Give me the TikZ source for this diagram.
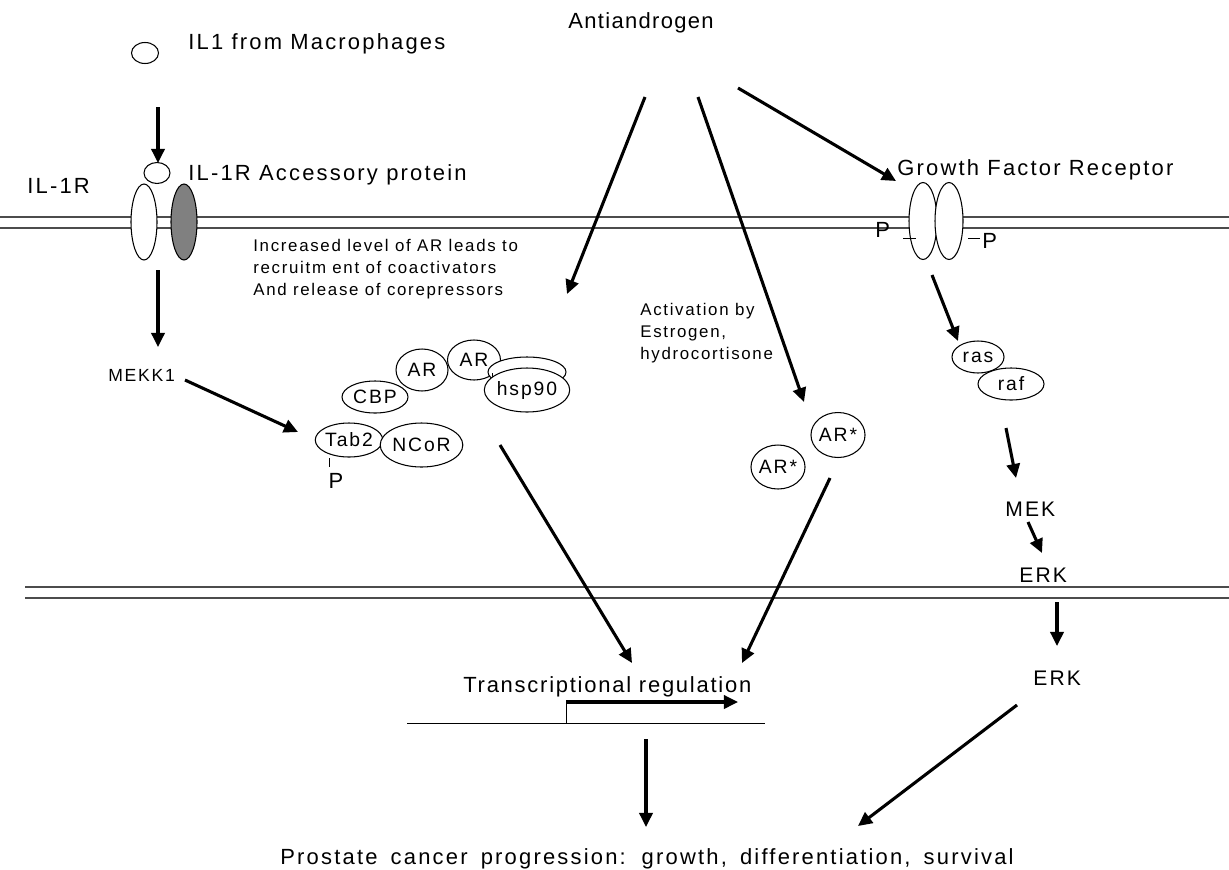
\documentclass[tikz,border=0pt]{standalone}
\usepackage{fontspec}
\setmainfont{Liberation Sans}[LetterSpace=10]
\usetikzlibrary{shapes.geometric, arrows.meta, positioning}

\begin{document}
\begin{tikzpicture}[x=0.02cm, y=-0.02cm,
        prot/.style={ellipse, draw, fill=white, semithick, inner sep=0pt, font=\fontsize{11}{13}\selectfont},
        dims/.style 2 args={minimum width=#1*0.02cm, minimum height=#2*0.02cm},
        txt/.style={inner sep=0pt, font=\fontsize{12.5}{15}\selectfont},
        note/.style={inner sep=0pt, align=left, font=\fontsize{9.6}{12.5}\selectfont},
        arrow/.style={-{Triangle[length=8pt, width=7.5pt]}, line width=1.75pt},
        membrane/.style={gray!60!black, line width=0.8pt}%
    ]
        \useasboundingbox (0,0) rectangle (1229,869);

        % membranes
        \draw[membrane] (0,217) -- (1229,217);
        \draw[membrane] (0,228) -- (1229,228);
        \draw[membrane] (25,587) -- (1229,587);
        \draw[membrane] (25,598) -- (1229,598);

        % labels
        \node[txt, anchor=base] (anti) at (641,28) {\addfontfeatures{LetterSpace=6}Antiandrogen};
        \node[txt, anchor=base west] (il1txt) at (188,49) {IL1 from Macrophages};
        \node[txt, anchor=base west] (acctxt) at (188,180) {IL-1R Accessory protein};
        \node[txt, anchor=base west] (il1rtxt) at (27,193) {IL-1R};
        \node[txt, anchor=base west] (gfrtxt) at (897,175) {Growth Factor Receptor};
        \node[note, anchor=north west] (arnote) at (253,239) {Increased level of AR leads to\\recruitm ent of coactivators\\And release of corepressors};
        \node[note, anchor=north west] (estnote) at (640,303) {Activation by\\Estrogen,\\hydrocortisone};
        \node[note, anchor=base west, font=\fontsize{10}{12}\selectfont] (mekk1) at (108,381) {MEKK1};
        \node[txt, anchor=base west, font=\fontsize{12}{14}\selectfont] (mek) at (1005,516) {MEK};
        \node[txt, anchor=base west, font=\fontsize{12}{14}\selectfont] (erk1) at (1019,582) {ERK};
        \node[txt, anchor=base west, font=\fontsize{12}{14}\selectfont] (erk2) at (1033,685) {ERK};
        \node[txt, anchor=base west] (trtxt) at (463,692) {\addfontfeatures{LetterSpace=8}Transcriptional regulation};
        \node[txt, anchor=base] (prog) at (647,864) {\spaceskip=7.5pt\relax Prostate cancer progression: growth, differentiation, survival};

        % receptors
        \node[prot, dims={27}{21}] (il1) at (145,53) {};
        \node[prot, dims={26}{21}] (lig) at (157,173) {};
        \node[prot, dims={26}{76}] (il1r) at (144,222) {};
        \node[prot, dims={26}{76}, fill=gray] (accp) at (184,222) {};
        \node[prot, dims={28}{77}] (gfr1) at (923,221) {};
        \node[prot, dims={28}{77}] (gfr2) at (949,221) {};
        \draw (903,238) -- (916,238);
        \draw (968,238) -- (980,238);
        \node[txt, anchor=base west] (pl) at (875,237) {P};
        \node[txt, anchor=base west] (pr) at (982,248) {P};

        % ras / raf
        \node[prot, dims={66}{32}] (raf) at (1011,384) {raf};
        \node[prot, dims={52}{32}] (ras) at (978,357) {ras};

        % AR complex
        \node[prot, dims={53}{40}] (ar2) at (474,360) {AR};
        \node[prot, dims={78}{30}] (hspb) at (527,372) {};
        \draw (492,373) -- (492,378);
        \node[prot, dims={80}{44}] (hsp) at (527,390) {hsp90};
        \node[prot, dims={52}{42}] (ar1) at (422,370) {AR};
        \node[prot, dims={66}{32}] (cbp) at (375,397) {CBP};
        \node[prot, dims={66}{34}] (tab2) at (349,440) {Tab2};
        \node[prot, dims={79}{44}] (ncor) at (421.5,445) {NCoR};
        \node[txt, anchor=base] (tabp) at (336,488) {P};
        \draw (329,458) -- (329,467);

        % activated AR
        \node[prot, dims={45}{45}] (ars1) at (838,435) {AR*};
        \node[prot, dims={52}{44}] (ars2) at (778,467) {AR*};

        % gene
        \coordinate (genel) at (407,723);
        \coordinate (gener) at (765,723);
        \coordinate (tss) at (566,723);
        \coordinate (tsstop) at (566,702);
        \coordinate (tssend) at (738,702);
        \draw (genel) -- (gener);
        \draw (tss) -- (tsstop);
        \draw[arrow] (tsstop) -- (tssend);

        % arrow ends
        \coordinate (s1) at (158,107);   \coordinate (e1) at (158,163);
        \coordinate (s2) at (158,270);   \coordinate (e2) at (158,347);
        \coordinate (s3) at (185,380);   \coordinate (e3) at (298,432);
        \coordinate (s4) at (645,97);    \coordinate (e4) at (567,294);
        \coordinate (s5) at (698,97);    \coordinate (e5) at (804,402);
        \coordinate (s6) at (738,88);    \coordinate (e6) at (896,181);
        \coordinate (s7) at (932,275);   \coordinate (e7) at (958,341);
        \coordinate (s8) at (1006,428);  \coordinate (e8) at (1016,478);
        \coordinate (s9) at (1028,522);  \coordinate (e9) at (1042,553);
        \coordinate (s10) at (1057,602); \coordinate (e10) at (1057,646);
        \coordinate (s11) at (500,445);  \coordinate (e11) at (632,663);
        \coordinate (s12) at (830,478);  \coordinate (e12) at (742,663);
        \coordinate (s13) at (646,739);  \coordinate (e13) at (646,827);
        \coordinate (s14) at (1017,705); \coordinate (e14) at (858,826);

        \foreach \i in {1,...,14}
            \draw[arrow] (s\i) -- (e\i);
    \end{tikzpicture}
\end{document}
